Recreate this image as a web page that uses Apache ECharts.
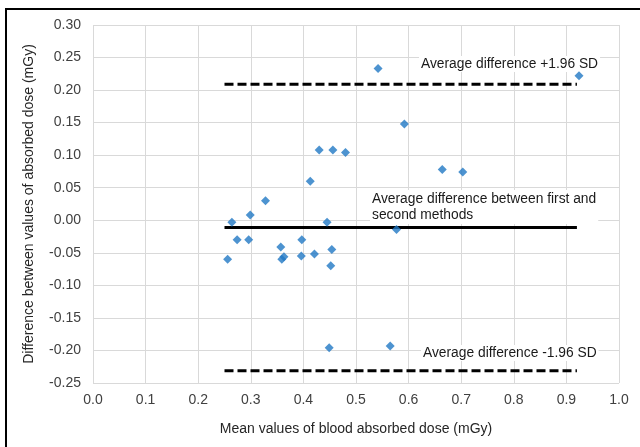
<!DOCTYPE html>
<html>
<head>
<meta charset="utf-8">
<script src="https://cdn.jsdelivr.net/npm/echarts@6/dist/echarts.min.js"></script>
<style>
html,body{margin:0;padding:0;background:#fff;}
#chart{width:640px;height:447px;}
</style>
</head>
<body>
<div id="chart"></div>
<script>
// Bland-Altman data: mean values (x) and differences (y), mGy
const meanValues = [0.256, 0.264, 0.274, 0.296, 0.299, 0.328, 0.357, 0.359, 0.363, 0.397, 0.396, 0.413, 0.421, 0.430, 0.445, 0.449, 0.452, 0.454, 0.456, 0.480, 0.542, 0.565, 0.577, 0.592, 0.664, 0.703, 0.924];
const differences = [-0.060, -0.003, -0.030, -0.030, 0.008, 0.030, -0.041, -0.060, -0.056, -0.030, -0.055, 0.060, -0.052, 0.108, -0.003, -0.196, -0.070, -0.045, 0.108, 0.104, 0.233, -0.193, -0.014, 0.148, 0.078, 0.074, 0.222];
const lineRangeX = [0.25, 0.92];
const upperLimit = 0.209;
const meanDifference = -0.011;
const lowerLimit = -0.231;
const xTicks = [0.0, 0.1, 0.2, 0.3, 0.4, 0.5, 0.6, 0.7, 0.8, 0.9, 1.0];
const yTicks = [-0.25, -0.20, -0.15, -0.10, -0.05, 0.00, 0.05, 0.10, 0.15, 0.20, 0.25, 0.30];
const xTitle = 'Mean values of blood absorbed dose (mGy)';
const yTitle = 'Difference between values of absorbed dose (mGy)';
const labelUpper = 'Average difference +1.96 SD';
const labelMean = 'Average difference between first and\nsecond methods';
const labelLower = 'Average difference -1.96 SD';

const points = meanValues.map((x, i) => [x, differences[i]]);
const hLine = v => lineRangeX.map(x => [x, v]);

const chart = echarts.init(document.getElementById('chart'), null, {renderer: 'canvas'});
const FONT = 'Liberation Sans, Arial, sans-serif';
const gridLine = {show: true, lineStyle: {color: '#d9d9d9', width: 1}};

chart.setOption({
  animation: false,
  backgroundColor: '#fff',
  grid: {left: 93, right: 21, top: 25, bottom: 64, containLabel: false},
  xAxis: {
    type: 'value', min: xTicks[0], max: xTicks[xTicks.length - 1], interval: 0.1,
    name: xTitle, nameLocation: 'middle', nameGap: 39,
    nameTextStyle: {color: '#262626', fontSize: 14, fontFamily: FONT},
    axisLine: {show: false}, axisTick: {show: false},
    axisLabel: {color: '#404040', fontSize: 14, fontFamily: FONT, margin: 10,
      formatter: v => v.toFixed(1)},
    splitLine: gridLine
  },
  yAxis: {
    type: 'value', min: yTicks[0], max: yTicks[yTicks.length - 1], interval: 0.05,
    name: yTitle, nameLocation: 'middle', nameGap: 57,
    nameTextStyle: {color: '#262626', fontSize: 14, fontFamily: FONT},
    axisLine: {show: false}, axisTick: {show: false},
    axisLabel: {color: '#404040', fontSize: 14, fontFamily: FONT, margin: 12,
      formatter: v => v.toFixed(2)},
    splitLine: gridLine
  },
  series: [
    {type: 'line', data: hLine(upperLimit), symbol: 'none', silent: true,
      lineStyle: {color: '#000', width: 3, type: [9, 4]}},
    {type: 'line', data: hLine(meanDifference), symbol: 'none', silent: true,
      lineStyle: {color: '#000', width: 3}},
    {type: 'line', data: hLine(lowerLimit), symbol: 'none', silent: true,
      lineStyle: {color: '#000', width: 3, type: [9, 4]}},
    {type: 'scatter', data: points, symbol: 'diamond', symbolSize: 9,
      itemStyle: {color: '#2178c4'}, z: 5}
  ],
  graphic: [
    {type: 'rect', shape: {x: 6, y: 9, width: 700, height: 500},
      style: {fill: 'none', stroke: '#000', lineWidth: 2}, silent: true},
    {type: 'text', x: 419, y: 64, z: 1, style: {text: labelUpper, fill: '#1a1a1a',
      font: '13.8px ' + FONT, textVerticalAlign: 'middle',
      backgroundColor: '#fff', padding: [1, 2]}},
    {type: 'text', x: 370, y: 190, z: 1, style: {text: labelMean, fill: '#1a1a1a',
      font: '13.8px ' + FONT, lineHeight: 16, textVerticalAlign: 'top',
      backgroundColor: '#fff', padding: [1, 2]}},
    {type: 'text', x: 421, y: 353, z: 1, style: {text: labelLower, fill: '#1a1a1a',
      font: '13.8px ' + FONT, textVerticalAlign: 'middle',
      backgroundColor: '#fff', padding: [1, 2]}}
  ]
});
</script>
</body>
</html>
